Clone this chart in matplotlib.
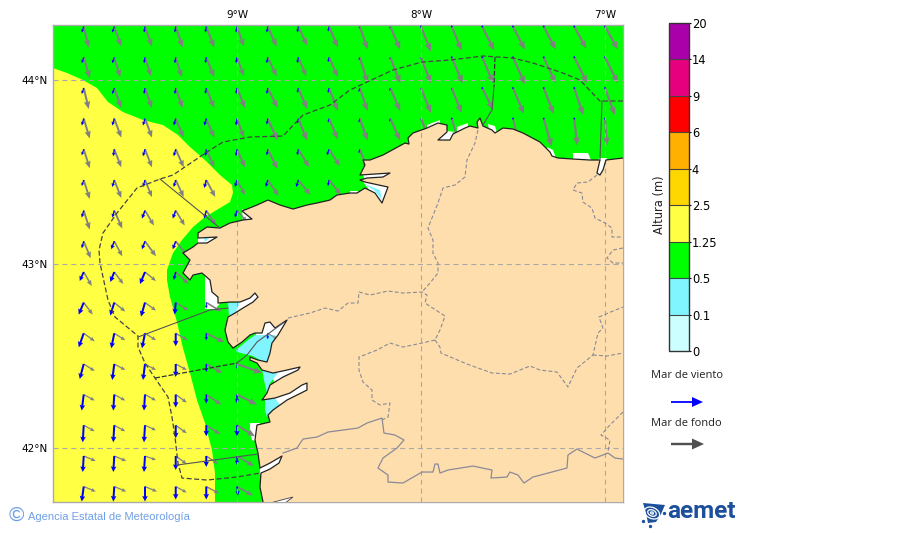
#!/usr/bin/env python3
"""Wave height map, Galicia (wind sea / swell arrows)."""
import matplotlib

matplotlib.use("Agg")
import matplotlib.pyplot as plt
import numpy as np
from matplotlib.colorbar import ColorbarBase
from matplotlib.colors import BoundaryNorm, ListedColormap
from matplotlib.patches import Ellipse, FancyArrow, Polygon

nan = float("nan")

# colour scale
BOUNDS = [0, 0.1, 0.5, 1.25, 2.5, 4, 6, 9, 14, 20]
BOUND_LABELS = ["0", "0.1", "0.5", "1.25", "2.5", "4", "6", "9", "14", "20"]
COLORS = ["#CCFFFF", "#80F5FF", "#00FF00", "#FFFF44", "#FFD700", "#FFB000",
          "#FF0000", "#E6007E", "#AA00AA"]

# arrow grid
LONS = [-9.833, -9.667, -9.5, -9.333, -9.167, -9.0, -8.833, -8.667, -8.5,
        -8.333, -8.167, -8.0, -7.833, -7.667, -7.5, -7.333, -7.167, -7.0]
LATS = [44.288, 44.121, 43.954, 43.788, 43.621, 43.454, 43.288, 43.121,
        42.954, 42.788, 42.621, 42.454, 42.288, 42.121, 41.954, 41.788]

# arrow components per row, west to east, missing cells are land
swell_u = [
    [5, 7, 7, 7, 8, 7, 9, 9, 9, 8, 10, 10, 10, 12, 12, 12, 12, 13],
    [6, 6, 6, 6, 8, 7, 9, 8, 9, 8, 10, 10, 11, 11, 12, 12, 13, 13],
    [5, 7, 7, 7, 8, 8, 10, 9, 9, 8, 10, 10, 10, 11, 11, 10, 9, 10],
    [6, 7, 7, 8, 8, 7, 10, 9, 9, 8, 10, 9, 6, nan, 5, 8, 3, 2],
    [6, 7, 7, 8, 8, 8, 10, 11, 11, 8],
    [6, 7, 7, 8, 9, 8, 11, 12, 12],
    [6, 8, 9, 9, 10, 10],
    [7, 8, 11, 12],
    [8, 9, 11, 13],
    [9, 11, 11, 13, 15],
    [11, 11, 11, 12, 18, nan, 10],
    [11, 11, 11, 11, 16, 25],
    [11, 11, 11, 11, 15, 20],
    [11, 11, 11, 11, 14, 18],
    [12, 12, 11, 11, 12, 17],
    [12, 12, 12, 11, 13, 16],
]
swell_v = [
    [21, 20, 20, 21, 21, 20, 20, 19, 21, 23, 23, 25, 24, 24, 23, 23, 22, 23],
    [21, 20, 19, 20, 20, 19, 19, 19, 20, 26, 26, 26, 26, 26, 27, 26, 26, 26],
    [21, 20, 20, 20, 20, 20, 20, 21, 23, 23, 23, 25, 25, 22, 26, 26, 27, 27],
    [20, 19, 19, 19, 19, 19, 22, 22, 21, 22, 22, 22, 20, nan, 20, 28, 27, 27],
    [19, 18, 18, 18, 18, 18, 20, 18, 17, 20],
    [19, 18, 17, 17, 17, 15, 16, 15, 15],
    [19, 18, 15, 15, 15, 11],
    [17, 15, 15, 15],
    [14, 12, 9, 12],
    [12, 9, 8, 8, 9],
    [8, 7, 7, 7, 9, nan, 6],
    [7, 6, 6, 6, 9, 9],
    [6, 6, 6, 8, 10, 10],
    [6, 6, 5, 8, 9, 11],
    [5, 5, 4, 8, 8, 10],
    [5, 5, 5, 6, 7, 9],
]
wind_u = [
    [-2, -2, -1, -1, -1, -1, -1, -1, -1, -1, -1, 0, 0, 0, 0, 0, 0, 0],
    [-2, -2, -1, -1, -1, -1, -1, -1, -1, -1, -1, 0, 0, 0, 0, 0, 0, 0],
    [-2, -2, -1, -1, -1, -1, -1, -1, -1, -1, -1, 0, 0, 0, 0, 0, 0, 0],
    [-2, -2, -2, -2, -2, -1, -1, -1, -1, -1, -1, 0, 0, nan, 0, 0, 0, 0],
    [-2, -1, -2, -2, -1, -1, -1, -1, -2, -1],
    [-2, -2, -2, -2, -2, -2, -2, -2, -1],
    [-2, -2, -3, -3, -2, -2],
    [-2, -3, -3, -3],
    [-4, -4, -5, -2],
    [-5, -4, -4, -1, 0],
    [-5, -3, -3, 0, 0, nan, 0],
    [-4, -2, -2, 0, 0, 0],
    [-2, -1, -1, 0, 0, 0],
    [-1, -1, -1, 0, 0, 0],
    [-1, -1, -1, 0, 0, 0],
    [-2, -1, 0, 0, 0, 1],
]
wind_v = [
    [6, 6, 6, 6, 6, 6, 6, 6, 5, 2, 2, 1, 1, 1, 1, 1, 1, 1],
    [6, 6, 6, 6, 6, 6, 6, 6, 5, 3, 2, 2, 1, 1, 1, 1, 1, 1],
    [6, 6, 6, 6, 6, 6, 6, 5, 5, 4, 3, 2, 2, 1, 1, 1, 1, 1],
    [7, 7, 7, 7, 7, 7, 6, 5, 4, 4, 3, 2, 1, nan, 1, 1, 1, 1],
    [6, 7, 7, 7, 7, 7, 6, 6, 6, 4],
    [6, 7, 7, 7, 8, 7, 7, 7, 6],
    [7, 7, 8, 8, 8, 7],
    [7, 8, 8, 8],
    [9, 10, 12, 8],
    [12, 13, 14, 12, 6],
    [14, 15, 15, 13, 7, nan, 6],
    [15, 16, 16, 13, 8, 5],
    [16, 16, 16, 13, 9, 9],
    [17, 17, 17, 13, 11, 11],
    [16, 16, 16, 14, 11, 9],
    [15, 15, 15, 13, 13, 9],
]

# outlines, 184 trace units per degree
COAST = [(623, 158), (606, 160), (603, 170), (600, 175), (597, 173), (600, 160),
         (590, 160), (573, 159), (558, 158), (552, 156), (550, 152), (540, 142),
         (523, 133), (513, 129), (503, 128), (495, 133), (492, 130), (483, 126),
         (480, 118), (477, 122), (478, 128), (470, 126), (465, 128), (453, 134),
         (450, 140), (438, 140), (447, 132), (447, 125), (438, 123), (427, 128),
         (413, 133), (408, 138), (409, 144), (405, 143), (383, 155), (370, 160),
         (363, 160), (365, 165), (360, 175), (390, 173), (383, 177), (367, 178),
         (360, 180), (365, 182), (388, 187), (382, 203), (375, 193), (365, 188),
         (357, 193), (350, 193), (337, 195), (330, 200), (317, 203), (307, 205),
         (293, 209), (280, 205), (268, 200), (257, 205), (242, 211), (252, 219),
         (243, 220), (230, 223), (220, 228), (207, 227), (198, 233), (198, 238),
         (217, 237), (207, 243), (198, 243), (193, 247), (183, 253), (190, 260),
         (183, 273), (190, 280), (193, 275), (202, 273), (210, 280), (212, 292),
         (218, 297), (218, 303), (230, 302), (240, 302), (250, 298), (255, 293),
         (258, 297), (253, 302), (243, 308), (235, 313), (228, 317), (225, 330),
         (228, 342), (233, 348), (242, 342), (250, 335), (255, 333), (262, 333),
         (265, 323), (270, 322), (275, 328), (287, 320), (278, 335), (272, 343),
         (270, 353), (267, 362), (258, 360), (250, 357), (250, 360), (257, 363),
         (262, 370), (273, 373), (287, 370), (300, 367), (298, 370), (283, 377),
         (270, 385), (267, 393), (262, 400), (275, 398), (290, 393), (302, 385),
         (307, 383), (307, 390), (287, 400), (273, 410), (268, 415), (270, 422),
         (257, 425), (255, 440), (258, 453), (260, 468), (270, 463), (282, 456),
         (279, 463), (270, 469), (261, 473), (260, 487), (263, 502)]
LAND_CLOSE = [(640, 510), (640, 150)]
YELLOW = [(40, 68), (53, 68), (67, 73), (83, 80), (97, 88), (108, 102), (123, 112),
          (143, 120), (163, 125), (178, 135), (190, 147), (205, 160), (220, 175),
          (232, 185), (233, 193), (230, 202), (220, 208), (205, 217), (193, 227),
          (182, 240), (173, 253), (167, 270), (167, 280), (170, 297), (177, 322),
          (183, 348), (190, 373), (197, 400), (205, 423), (212, 450), (215, 473),
          (215, 510), (40, 510)]
WHITE = [
    [(205, 275), (212, 280), (216, 295), (220, 303), (216, 309), (205, 309)],
    [(250, 423), (260, 423), (260, 442), (252, 440), (250, 432)],
    [(427, 125), (440, 120), (440, 133), (427, 133)],
    [(457, 127), (468, 123), (468, 133), (457, 133)],
    [(488, 124), (495, 126), (498, 136), (490, 136)],
    [(547, 147), (553, 150), (556, 158), (549, 156)],
    [(573, 153), (588, 153), (592, 162), (573, 162)],
    [(350, 191), (358, 191), (358, 200), (350, 200)],
    [(362, 172), (392, 170), (385, 180), (365, 180)],
    [(362, 180), (392, 185), (384, 206), (372, 194)],
    [(238, 300), (260, 290), (260, 300), (243, 310), (234, 315)],
    [(255, 336), (265, 320), (275, 325), (290, 316), (280, 338), (274, 345),
     (272, 364), (266, 360), (270, 340)],
    [(270, 371), (303, 364), (300, 372), (275, 384)],
    [(275, 397), (310, 381), (310, 392), (273, 411)],
    [(198, 236), (220, 235), (207, 245), (198, 245)],
    [(447, 131), (436, 141), (452, 141), (455, 132)],
    [(607, 158), (603, 172), (600, 177), (595, 174), (599, 158)],
    [(242, 209), (254, 219), (243, 222)],
    [(260, 466), (284, 454), (280, 465), (260, 475)],
]
CYAN = [
    [(228, 303), (240, 302), (235, 314), (229, 317)],
    [(236, 350), (248, 340), (255, 335), (275, 335), (274, 345), (270, 362),
     (262, 361), (253, 356), (237, 352)],
    [(262, 369), (278, 373), (270, 383), (268, 397), (265, 385)],
    [(265, 400), (275, 398), (280, 405), (270, 412), (267, 417), (265, 410)],
    [(365, 184), (380, 190), (382, 200), (375, 191)],
    [(204, 238), (209, 238), (205, 242)],
]
LIMA_MOUTH = [(270, 503), (285, 499), (293, 497), (285, 503)]

# zone limits at sea
ZONE_DASHED = [(623, 101), (600, 101), (580, 80), (563, 73), (533, 63), (513, 58),
               (483, 56), (450, 60), (422, 62), (393, 70), (367, 82), (350, 90),
               (330, 105), (303, 115), (283, 136), (250, 137), (223, 142), (207, 152),
               (173, 175), (160, 179), (137, 188), (117, 213), (103, 233), (99, 250),
               (100, 263), (108, 300), (115, 317), (138, 336), (138, 347), (145, 363),
               (155, 378), (168, 397), (172, 417), (175, 437), (178, 463), (182, 478),
               (207, 480), (237, 477), (260, 473)]
ZONE_SOLID = [
    [(160, 179), (220, 228)],
    [(138, 337), (210, 310), (228, 308)],
    [(237, 363), (247, 355), (257, 342), (283, 323)],
    [(177, 465), (258, 454)],
    [(602, 101), (600, 160)],
    [(494, 87), (492, 110), (483, 125)],
]
ZONE_SHORT_DASH = [
    [(155, 378), (237, 363)],
    [(495, 57), (494, 87)],
]

# provinces and border on land
PROVINCES = [
    [(478, 130), (475, 143), (467, 160), (465, 177), (455, 185), (443, 188),
     (438, 203), (428, 228), (433, 240), (433, 253), (438, 263), (438, 273),
     (430, 283), (422, 292)],
    [(288, 318), (310, 313), (325, 308), (338, 311), (348, 303), (358, 303),
     (359, 292), (370, 295), (388, 291), (403, 293), (422, 292), (427, 295),
     (425, 303), (445, 316), (440, 330), (435, 340)],
    [(435, 340), (422, 343), (403, 347), (390, 343), (377, 350), (359, 357),
     (359, 370), (363, 382), (372, 390), (372, 400), (380, 405), (390, 403),
     (388, 417), (382, 420)],
    [(435, 340), (440, 347), (441, 353), (467, 364), (492, 373), (510, 374),
     (530, 366), (540, 370), (557, 372), (568, 387), (577, 368), (593, 355),
     (598, 333), (603, 328), (599, 317), (613, 311), (623, 307)],
    [(593, 355), (607, 356), (623, 353)],
    [(623, 412), (610, 425), (601, 435), (610, 440), (608, 452)],
    [(597, 175), (588, 182), (577, 183), (573, 190), (582, 193), (583, 202),
     (592, 208), (595, 218), (605, 223), (612, 228), (612, 237), (623, 237)],
    [(623, 248), (613, 250), (607, 258), (613, 263), (623, 263)],
]
BORDER = [(283, 453), (297, 448), (303, 439), (317, 437), (328, 432), (358, 428),
          (367, 423), (382, 418), (384, 433), (395, 435), (404, 440), (397, 448),
          (383, 458), (378, 468), (388, 475), (388, 482), (403, 483), (422, 472),
          (433, 472), (435, 464), (438, 464), (440, 473), (448, 470), (473, 466),
          (492, 470), (491, 478), (507, 477), (510, 472), (518, 475), (524, 483),
          (533, 477), (567, 468), (568, 455), (577, 449), (595, 458), (608, 453),
          (615, 458), (623, 459)]


def lonlat(trace):
    xy = np.array(trace, dtype=float)
    return np.column_stack([-9 + (xy[:, 0] - 237) / 184, 44 - (xy[:, 1] - 79.5) / 184])


def grid(rows):
    out = np.full((len(rows), len(LONS)), np.nan)
    for i, row in enumerate(rows):
        out[i, :len(row)] = row
    return np.ma.masked_invalid(out)


def line(ax, trace, **kw):
    pts = lonlat(trace)
    ax.plot(pts[:, 0], pts[:, 1], **kw)


fig = plt.figure(figsize=(9, 5.33), dpi=100)
ax = fig.add_axes([53 / 900, 1 - 502 / 533, 570 / 900, 477.5 / 533])
ax.set_facecolor("#00FF00")
ax.set_xlim(-10, -6.902)
ax.set_ylim(41.704, 44.299)

ax.add_patch(Polygon(lonlat(YELLOW), fc=COLORS[3], ec="none", zorder=1))
for poly in WHITE:
    ax.add_patch(Polygon(lonlat(poly), fc="white", ec="none", zorder=2))
for poly in CYAN:
    ax.add_patch(Polygon(lonlat(poly), fc=COLORS[1], ec="none", zorder=3))

# heads shrink with the arrow length, as on the source map
X, Y = np.meshgrid(LONS, LATS)
ax.quiver(X, Y, grid(swell_u), -grid(swell_v), color="#808080", pivot="tail",
          angles="uv", scale_units="dots", scale=1, units="dots", width=2.2,
          headwidth=3.2, headlength=3.8, headaxislength=3.4, minshaft=2.8, zorder=4)
ax.quiver(X, Y, grid(wind_u), -grid(wind_v), color="#0000FF", pivot="tail",
          angles="uv", scale_units="dots", scale=1, units="dots", width=2.0,
          headwidth=2.8, headlength=2.8, headaxislength=2.5, minshaft=2, zorder=4.1)

ax.add_patch(Polygon(lonlat(COAST + LAND_CLOSE), fc="#FFDEAD", ec="none", zorder=5))
ax.add_patch(Polygon(lonlat(LIMA_MOUTH), fc="white", ec="#444444", lw=0.6, zorder=5.1))
line(ax, COAST, color="#222222", lw=0.9, zorder=6)

line(ax, ZONE_DASHED, color="#444444", lw=0.9, dashes=(4, 2), zorder=6)
for seg in ZONE_SHORT_DASH:
    line(ax, seg, color="#333333", lw=0.9, dashes=(4, 1.5), zorder=6)
for seg in ZONE_SOLID:
    line(ax, seg, color="#555555", lw=0.8, zorder=6)
for seg in PROVINCES:
    line(ax, seg, color="#8a8a95", lw=0.8, dashes=(3.5, 2), zorder=6)
line(ax, BORDER, color="#8a8a98", lw=0.9, zorder=6)

ax.set_xticks([-9, -8, -7])
ax.set_xticklabels(["9°W", "8°W", "7°W"])
ax.set_yticks([44, 43, 42])
ax.set_yticklabels(["44°N", "43°N", "42°N"])
ax.xaxis.tick_top()
ax.tick_params(length=0, labelsize=7.5, pad=3.5)
ax.grid(True, color="#a8a8a8", lw=0.8, ls=(0, (4.5, 3.5)))
ax.set_axisbelow(False)
ax.xaxis.set_zorder(5.5)
ax.yaxis.set_zorder(5.5)
for sp in ax.spines.values():
    sp.set_color("#aaaaaa")
    sp.set_linewidth(1)

# colour bar
cax = fig.add_axes([669 / 900, 1 - 351 / 533, 20 / 900, 328 / 533])
cb = ColorbarBase(cax, cmap=ListedColormap(COLORS), norm=BoundaryNorm(BOUNDS, len(COLORS)),
                  spacing="uniform", ticks=BOUNDS, drawedges=True)
cb.ax.set_yticklabels(BOUND_LABELS)
cb.ax.tick_params(labelsize=8.3, length=1.5, width=0.8, pad=0.5)
cb.dividers.set_color("#444444")
cb.dividers.set_linewidth(0.8)
cb.outline.set_edgecolor("#333333")
cb.outline.set_linewidth(1)

# overlay for legend and footer, measured on the page
over = fig.add_axes([0, 0, 1, 1], facecolor="none")
over.set_xlim(0, 900)
over.set_ylim(533, 0)
over.axis("off")
over.text(659, 205, "Altura (m)", rotation=90, ha="center", va="center", fontsize=8.3,
          color="#222222")
over.text(687, 376, "Mar de viento", ha="center", va="center", fontsize=8,
          family="Open Sans", color="#222222")
over.text(686, 423, "Mar de fondo", ha="center", va="center", fontsize=8,
          family="Open Sans", color="#222222")
over.add_patch(FancyArrow(671, 402, 32, 0, width=1.8, head_width=10, head_length=11,
                          length_includes_head=True, color="#0000FF", lw=0))
over.add_patch(FancyArrow(671, 444, 33, 0, width=2.4, head_width=11, head_length=12,
                          length_includes_head=True, color="#505050", lw=0))

over.text(16.5, 515.5, "©", ha="center", va="center", fontsize=15, color="#6f9fe6",
          family="Liberation Sans")
over.text(28, 516.5, "Agencia Estatal de Meteorología", ha="left", va="center",
          fontsize=8, color="#6f9fe6", family="Liberation Sans")

# logo
over.add_patch(Polygon([(643, 503), (665, 505), (661, 514), (656, 522), (648, 523),
                        (646, 513)], fc="#1c4f9c", ec="none"))
for w, h in [(16, 11), (9, 6), (3, 2)]:
    over.add_patch(Ellipse((652, 513), w, h, angle=25, fc="none", ec="white", lw=0.9))
over.plot([643, 650, 664], [521, 526, 513], ls="none", marker="o", ms=1.4, color="#1c4f9c")
over.text(667, 512, "aemet", ha="left", va="center", fontsize=17.5, fontweight="bold",
          family="Roboto", color="#1c4f9c")

fig.savefig("out.png", dpi=100)
